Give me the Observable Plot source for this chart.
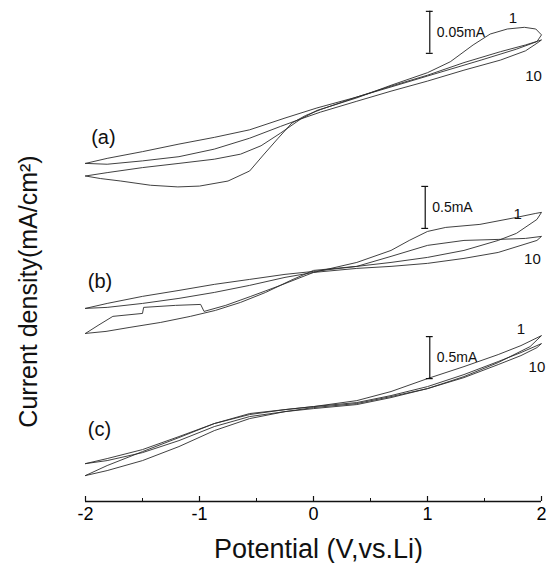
<!DOCTYPE html>
<html><head><meta charset="utf-8">
<script src="https://cdn.jsdelivr.net/npm/d3@7"></script>
<script src="https://cdn.jsdelivr.net/npm/@observablehq/plot@0.6"></script>
<style>body{margin:0;background:#fff} #chart svg{display:block}</style>
</head><body><div id="chart"></div>
<script>
// Potential (V vs. Li) and current (mA), cycle 1 and cycle 10 of each sample
const aCycle1V = [-2.00,-1.81,-1.50,-1.18,-0.87,-0.64,-0.46,-0.29,-0.11,0.03,0.38,0.68,1.00,1.20,1.40,1.55,1.70,1.85,1.95,2.00, 1.96,1.78,1.47,1.00,0.68,0.38,0.06,-0.07,-0.19,-0.31,-0.44,-0.56,-0.75,-1.00,-1.19,-1.43,-1.69,-1.87,-2.00];
const aCycle1I = [-0.078,-0.074,-0.068,-0.063,-0.058,-0.052,-0.042,-0.027,-0.010,0.000,0.015,0.030,0.045,0.058,0.078,0.091,0.097,0.099,0.097,0.090, 0.082,0.073,0.060,0.041,0.028,0.016,0.001,-0.006,-0.015,-0.033,-0.053,-0.072,-0.084,-0.090,-0.091,-0.089,-0.084,-0.081,-0.078];
const aCycle10V = [-2.00,-1.81,-1.50,-1.18,-0.87,-0.56,-0.25,0.03,0.38,0.68,1.00,1.32,1.64,1.86,2.00, 1.96,1.86,1.64,1.32,1.00,0.68,0.38,0.06,-0.11,-0.29,-0.56,-0.87,-1.18,-1.50,-1.81,-2.00];
const aCycle10I = [-0.063,-0.057,-0.049,-0.040,-0.032,-0.023,-0.009,0.003,0.016,0.029,0.042,0.057,0.070,0.078,0.084, 0.080,0.071,0.060,0.048,0.035,0.023,0.011,-0.002,-0.010,-0.019,-0.033,-0.046,-0.055,-0.060,-0.064,-0.063];

const bCycle1V = [-2.00,-1.89,-1.76,-1.50,-1.49,-1.21,-0.99,-0.96,-0.77,-0.55,-0.29,0.00,0.38,0.68,0.84,1.00,1.16,1.46,1.78,1.95,2.00, 1.96,1.78,1.62,1.32,1.00,0.68,0.38,0.00,-0.20,-0.42,-0.64,-0.86,-1.08,-1.34,-1.61,-1.82,-2.00];
const bCycle1I = [-0.774,-0.679,-0.571,-0.536,-0.464,-0.440,-0.429,-0.512,-0.440,-0.333,-0.202,-0.048,0.071,0.214,0.333,0.440,0.488,0.524,0.607,0.655,0.667, 0.583,0.417,0.333,0.214,0.131,0.071,0.024,-0.024,-0.143,-0.286,-0.405,-0.500,-0.571,-0.643,-0.702,-0.750,-0.774];
const bCycle10V = [-2.00,-1.81,-1.50,-1.18,-0.87,-0.56,-0.25,0.00,0.38,0.68,1.00,1.32,1.62,1.86,2.00, 1.96,1.82,1.62,1.32,1.00,0.68,0.38,0.00,-0.25,-0.56,-0.87,-1.18,-1.50,-1.81,-2.00];
const bCycle10I = [-0.476,-0.417,-0.333,-0.262,-0.190,-0.131,-0.071,-0.036,0.024,0.143,0.274,0.333,0.345,0.357,0.381, 0.333,0.274,0.190,0.119,0.060,0.024,0.000,-0.048,-0.107,-0.202,-0.286,-0.357,-0.417,-0.464,-0.476];

const cCycle1V = [-2.00,-1.81,-1.50,-1.18,-0.87,-0.56,-0.25,0.00,0.38,0.68,1.00,1.32,1.62,1.82,2.00, 1.90,1.62,1.32,1.00,0.68,0.38,0.00,-0.25,-0.56,-0.87,-1.18,-1.50,-1.81,-2.00];
const cCycle1I = [-0.821,-0.702,-0.536,-0.369,-0.202,-0.083,-0.036,0.000,0.071,0.179,0.333,0.476,0.619,0.726,0.845, 0.714,0.524,0.357,0.214,0.119,0.036,-0.012,-0.060,-0.143,-0.286,-0.476,-0.643,-0.762,-0.821];
const cCycle10V = [-2.00,-1.81,-1.50,-1.18,-0.87,-0.56,-0.25,0.00,0.38,0.68,1.00,1.32,1.62,1.82,2.00, 1.96,1.82,1.62,1.32,1.00,0.68,0.38,0.00,-0.25,-0.56,-0.87,-1.18,-1.50,-1.81,-2.00];
const cCycle10I = [-0.679,-0.619,-0.512,-0.357,-0.202,-0.095,-0.036,0.000,0.048,0.131,0.238,0.381,0.536,0.643,0.750, 0.702,0.607,0.500,0.345,0.214,0.107,0.024,-0.024,-0.060,-0.119,-0.238,-0.405,-0.548,-0.643,-0.679];

const panelNames = ["(a)", "(b)", "(c)"];
const scaleBarValues = [0.05, 0.5, 0.5];           // mA represented by each scale bar
const scaleBarLabels = ["0.05mA", "0.5mA", "0.5mA"];
const cycleLabels = ["1", "10"];
const xTicks = [-2, -1, 0, 1, 2];
const xMinorTicks = [-1.5, -0.5, 0.5, 1.5];

// layout (vertical stacking in scale-bar units)
const offsets = [9.31, 5.55, 2.26];
const barAt = [{V: 1.02, I: 0.068}, {V: 0.98, I: 0.476}, {V: 1.02, I: 0.333}];
const cycleLabelAt = [
  [{V: 1.75, y: 11.50}, {V: 1.93, y: 10.12}],
  [{V: 1.79, y: 6.83}, {V: 1.92, y: 5.76}],
  [{V: 1.82, y: 4.10}, {V: 1.96, y: 3.19}]
];
const panelLabelAt = [{V: -1.95, y: 8.67}, {V: -1.98, y: 5.24}, {V: -1.98, y: 1.71}];

const series = [
  [[aCycle1V, aCycle1I], [aCycle10V, aCycle10I]],
  [[bCycle1V, bCycle1I], [bCycle10V, bCycle10I]],
  [[cCycle1V, cCycle1I], [cCycle10V, cCycle10I]]
];
const rows = [];
series.forEach((cycles, p) => cycles.forEach(([V, I], c) => V.forEach((v, i) =>
  rows.push({key: p + "-" + c, V: v, y: offsets[p] + I[i] / scaleBarValues[p]}))));

const bars = panelNames.map((n, p) => ({
  V: barAt[p].V, y1: offsets[p] + barAt[p].I / scaleBarValues[p],
  y2: offsets[p] + barAt[p].I / scaleBarValues[p] + 1, label: scaleBarLabels[p]
}));
const caps = bars.flatMap(b => [{V: b.V, y: b.y1}, {V: b.V, y: b.y2}]);
const cyc = cycleLabelAt.flatMap(arr => arr.map((d, i) => ({...d, text: cycleLabels[i]})));
const pan = panelLabelAt.map((d, i) => ({...d, text: panelNames[i]}));

const PX = 42; // pixels per scale-bar unit
const chart = Plot.plot({
  width: 555, height: 563,
  marginTop: 0, marginRight: 14, marginBottom: 62, marginLeft: 85,
  x: {domain: [-2, 2]},
  y: {domain: [0, 501 / PX], axis: null},
  style: {fontFamily: "'Liberation Sans', Arial, sans-serif", background: "white", color: "black", overflow: "visible"},
  marks: [
    Plot.line(rows, {x: "V", y: "y", z: "key", stroke: "#2b2b2b", strokeWidth: 0.9}),
    Plot.ruleX(bars, {x: "V", y1: "y1", y2: "y2", stroke: "#111", strokeWidth: 1.2}),
    Plot.ruleY(caps, {y: "y", x1: d => d.V - 0.03, x2: d => d.V + 0.03, stroke: "#111", strokeWidth: 1.2}),
    Plot.text(bars, {x: "V", y: d => (d.y1 + d.y2) / 2, text: "label", textAnchor: "start", dx: 7, fontSize: 14, fill: "#111"}),
    Plot.text(cyc, {x: "V", y: "y", text: "text", fontSize: 15, fill: "#111"}),
    Plot.text(pan, {x: "V", y: "y", text: "text", textAnchor: "start", fontSize: 20, fill: "#111"}),
    Plot.ruleY([0], {stroke: "#111", strokeWidth: 1.5}),
    Plot.ruleX(xTicks, {x: d => d, y1: 0, y2: 5 / PX, stroke: "#111", strokeWidth: 1.2}),
    Plot.ruleX(xMinorTicks, {x: d => d, y1: 0, y2: 3 / PX, stroke: "#111", strokeWidth: 1}),
    Plot.axisX({ticks: xTicks, tickSize: 0, tickPadding: 6, tickFormat: d => String(d), fontSize: 18, label: null}),
    Plot.text(["Potential (V,vs.Li)"], {frameAnchor: "bottom", dx: 5, dy: 48, fontSize: 27, lineAnchor: "middle", fill: "#111"}),
    Plot.text(["Current density(mA/cm²)"], {x: -2.5, y: (501 - 291) / PX, rotate: -90, fontSize: 25, lineAnchor: "middle", fill: "#111"})
  ]
});
document.getElementById("chart").append(chart);
</script>
</body></html>
